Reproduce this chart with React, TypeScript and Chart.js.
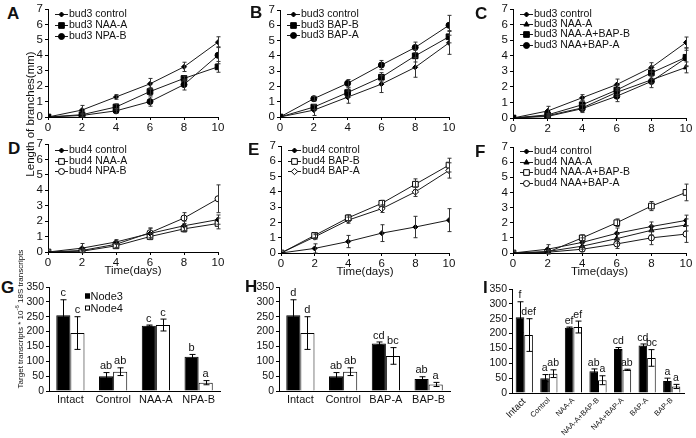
import React, { useEffect, useRef } from "react";
import { Chart, registerables } from "chart.js";
import { drawPoint } from "chart.js/helpers";

Chart.register(...registerables);

const FONT = "'Liberation Sans', Arial, Helvetica, sans-serif";
const INK = "#111";

// ---------- DATA ----------
const days = [0, 2, 4, 6, 8, 10];

// Panel A (bud3)
const aControl = [0, 0.45, 1.3, 2.15, 3.25, 4.85];
const aControlErr = [0, 0.3, 0.15, 0.35, 0.3, 0.35];
const aNAA = [0, 0.15, 0.65, 1.65, 2.5, 3.25];
const aNAAErr = [0, 0.1, 0.2, 0.25, 0.15, 0.35];
const aNPA = [0, 0.1, 0.4, 1.0, 2.1, 4.0];
const aNPAErr = [0, 0.1, 0.15, 0.3, 0.35, 0.55];

// Panel B (bud3)
const bControl = [0, 0.45, 1.3, 2.15, 3.25, 4.85];
const bControlErr = [0, 0.35, 0.4, 0.55, 0.65, 0.75];
const bBAPB = [0, 0.65, 1.6, 2.6, 4.0, 5.25];
const bBAPBErr = [0, 0.15, 0.3, 0.3, 0.4, 0.4];
const bBAPA = [0, 1.2, 2.2, 3.4, 4.55, 6.0];
const bBAPAErr = [0, 0.15, 0.25, 0.3, 0.35, 0.65];

// Panel C (bud3)
const cControl = [0, 0.45, 1.3, 2.15, 3.25, 4.85];
const cControlErr = [0, 0.3, 0.2, 0.35, 0.3, 0.35];
const cNAA = [0, 0.15, 0.65, 1.65, 2.45, 3.25];
const cNAAErr = [0, 0.1, 0.2, 0.25, 0.2, 0.35];
const cNAABAPB = [0, 0.2, 0.85, 1.8, 2.9, 3.9];
const cNAABAPBErr = [0, 0.1, 0.3, 0.3, 0.4, 0.6];
const cNAABAPA = [0, 0.1, 0.6, 1.4, 2.35, 3.85];
const cNAABAPAErr = [0, 0.1, 0.25, 0.35, 0.4, 0.5];

// Panel D (bud4)
const dControl = [0, 0.25, 0.65, 1.2, 1.7, 2.1];
const dControlErr = [0, 0.3, 0.15, 0.35, 0.3, 0.3];
const dNAA = [0, 0.05, 0.4, 1.0, 1.5, 1.85];
const dNAAErr = [0, 0.05, 0.15, 0.2, 0.2, 0.35];
const dNPA = [0, 0.1, 0.5, 1.25, 2.2, 3.45];
const dNPAErr = [0, 0.1, 0.2, 0.3, 0.35, 0.9];

// Panel E (bud4)
const eControl = [0, 0.3, 0.75, 1.3, 1.7, 2.15];
const eControlErr = [0, 0.3, 0.4, 0.55, 0.7, 0.75];
const eBAPB = [0, 1.15, 2.3, 3.25, 4.5, 5.75];
const eBAPBErr = [0, 0.15, 0.2, 0.2, 0.35, 0.45];
const eBAPA = [0, 1.05, 2.15, 2.9, 4.0, 5.4];
const eBAPAErr = [0, 0.15, 0.2, 0.25, 0.3, 0.5];

// Panel F (bud4)
const fControl = [0, 0.25, 0.7, 1.3, 1.75, 2.15];
const fControlErr = [0, 0.3, 0.3, 0.35, 0.3, 0.35];
const fNAA = [0, 0.1, 0.45, 0.95, 1.5, 1.85];
const fNAAErr = [0, 0.1, 0.2, 0.3, 0.3, 0.4];
const fNAABAPB = [0, 0.05, 1.0, 2.0, 3.1, 4.0];
const fNAABAPBErr = [0, 0.1, 0.2, 0.25, 0.3, 0.55];
const fNAABAPA = [0, 0.05, 0.25, 0.6, 1.0, 1.25];
const fNAABAPAErr = [0, 0.1, 0.15, 0.3, 0.45, 0.55];

// Panel G
const gCategories = ["Intact", "Control", "NAA-A", "NPA-B"];
const gNode3 = [255, 50, 220, 115];
const gNode3Err = [52, 12, 2, 8];
const gNode3Letters = ["c", "ab", "c", "b"];
const gNode4 = [195, 65, 222, 28];
const gNode4Err = [55, 13, 20, 7];
const gNode4Letters = ["c", "ab", "c", "a"];

// Panel H
const hCategories = ["Intact", "Control", "BAP-A", "BAP-B"];
const hNode3 = [255, 50, 160, 40];
const hNode3Err = [52, 12, 5, 8];
const hNode3Letters = ["d", "ab", "cd", "ab"];
const hNode4 = [195, 65, 118, 22];
const hNode4Err = [55, 13, 28, 7];
const hNode4Letters = ["d", "ab", "bc", "a"];

// Panel I
const iCategories = ["Intact", "Control", "NAA-A", "NAA-A+BAP-B", "NAA+BAP-A", "BAP-A", "BAP-B"];
const iNode3 = [255, 50, 220, 73, 148, 160, 40];
const iNode3Err = [52, 12, 2, 8, 5, 5, 10];
const iNode3Letters = ["f", "a", "ef", "ab", "cd", "cd", "a"];
const iNode4 = [195, 65, 222, 43, 78, 118, 22];
const iNode4Err = [55, 13, 20, 15, 2, 28, 7];
const iNode4Letters = ["def", "ab", "ef", "a", "ab", "bc", "a"];

// ---------- PLUGINS ----------
const errorBarsPlugin = {
  id: "errorBars",
  afterDatasetsDraw(chart: any, _a: any, o: any) {
    const ctx = chart.ctx;
    const ys = chart.scales.y;
    const cap = o && o.cap != null ? o.cap : 2;
    chart.data.datasets.forEach((ds: any, i: number) => {
      if (!ds.errors) return;
      const meta = chart.getDatasetMeta(i);
      meta.data.forEach((el: any, j: number) => {
        const e = ds.errors[j];
        if (!e) return;
        const raw = ds.data[j];
        const v = typeof raw === "number" ? raw : raw.y;
        const x = Math.round(el.x) + 0.5;
        const y1 = ys.getPixelForValue(v + e);
        const y2 = ys.getPixelForValue(v - e);
        ctx.save();
        ctx.strokeStyle = (o && o.color) || "#333";
        ctx.lineWidth = 1;
        ctx.beginPath();
        ctx.moveTo(x, y1);
        ctx.lineTo(x, y2);
        ctx.moveTo(x - cap, y1);
        ctx.lineTo(x + cap, y1);
        ctx.moveTo(x - cap, y2);
        ctx.lineTo(x + cap, y2);
        ctx.stroke();
        ctx.restore();
      });
    });
  },
};

const lettersPlugin = {
  id: "sigLetters",
  afterDatasetsDraw(chart: any, _a: any, o: any) {
    if (!o || !o.show) return;
    const ctx = chart.ctx;
    const ys = chart.scales.y;
    ctx.save();
    ctx.font = `${o.size}px ${FONT}`;
    ctx.fillStyle = INK;
    ctx.textAlign = "center";
    ctx.textBaseline = "bottom";
    chart.data.datasets.forEach((ds: any, i: number) => {
      if (!ds.letters) return;
      const meta = chart.getDatasetMeta(i);
      meta.data.forEach((el: any, j: number) => {
        const v = ds.data[j] + (ds.errors ? ds.errors[j] : 0);
        ctx.fillText(ds.letters[j], el.x, ys.getPixelForValue(v) - 1);
      });
    });
    ctx.restore();
  },
};

const panelLegendPlugin = {
  id: "panelLegend",
  afterDraw(chart: any, _a: any, o: any) {
    if (!o || !o.show) return;
    const ctx = chart.ctx;
    const { left, top } = chart.chartArea;
    ctx.save();
    ctx.font = `${o.size}px ${FONT}`;
    ctx.textBaseline = "middle";
    ctx.textAlign = "left";
    chart.data.datasets.forEach((ds: any, i: number) => {
      const y = Math.round(top + o.dy + i * o.row) + 0.5;
      const x0 = left + o.dx;
      if (o.kind === "box") {
        ctx.fillStyle = ds.backgroundColor;
        ctx.strokeStyle = "#000";
        ctx.lineWidth = 1;
        ctx.fillRect(x0, y - 3, 5, 5);
        ctx.strokeRect(x0 + 0.5, y - 2.5, 4, 4);
        ctx.fillStyle = INK;
        ctx.fillText(ds.label, x0 + 5.5, y);
      } else {
        ctx.strokeStyle = ds.borderColor;
        ctx.lineWidth = 1;
        ctx.beginPath();
        ctx.moveTo(x0, y);
        ctx.lineTo(x0 + o.len, y);
        ctx.stroke();
        ctx.fillStyle = ds.pointBackgroundColor;
        ctx.strokeStyle = ds.pointBorderColor;
        ctx.lineWidth = ds.pointBorderWidth;
        drawPoint(
          ctx,
          { pointStyle: ds.pointStyle, radius: ds.pointRadius, rotation: 0, borderWidth: ds.pointBorderWidth } as any,
          x0 + o.len / 2,
          y
        );
        ctx.fillStyle = INK;
        ctx.fillText(ds.label, x0 + o.len + 1, y);
      }
    });
    ctx.restore();
  },
};

Chart.register(errorBarsPlugin as any, lettersPlugin as any, panelLegendPlugin as any);

// ---------- STYLES ----------
type Marker = { style: string; r: number; open: boolean };
const M_DIAMOND: Marker = { style: "rectRot", r: 2.5, open: false };
const M_SQUARE: Marker = { style: "rect", r: 4, open: false };
const M_CIRCLE: Marker = { style: "circle", r: 3, open: false };
const M_TRI: Marker = { style: "triangle", r: 3, open: false };
const M_OSQUARE: Marker = { style: "rect", r: 4, open: true };
const M_OCIRCLE: Marker = { style: "circle", r: 3, open: true };
const M_ODIAMOND: Marker = { style: "rectRot", r: 3.2, open: true };

function lineDs(label: string, values: number[], errors: number[], m: Marker) {
  return {
    label,
    data: days.map((d, i) => ({ x: d, y: values[i] })),
    errors,
    borderColor: "#1a1a1a",
    borderWidth: 1,
    pointStyle: m.style,
    pointRadius: m.r,
    pointBackgroundColor: m.open ? "#fff" : "#000",
    pointBorderColor: "#000",
    pointBorderWidth: 1,
    tension: 0,
    fill: false,
  };
}

function barDs(label: string, values: number[], errors: number[], letters: string[], filled: boolean) {
  return {
    label,
    data: values,
    errors,
    letters,
    backgroundColor: filled ? "#000" : "#fff",
    borderColor: "#000",
    borderWidth: 1,
  };
}

type Area = { L: number; T: number; R: number; B: number };
type Geo = { yW: number; xH: number; padTop: number; padRight: number };

function lineConfig(datasets: any[], xTitle: boolean, g: Geo, legend: any) {
  const tickFont = { family: FONT, size: 11.5 };
  return {
    type: "line",
    data: { datasets },
    options: {
      animation: false,
      responsive: false,
      devicePixelRatio: 1,
      layout: { padding: { top: g.padTop, right: g.padRight, left: 0, bottom: 0 } },
      plugins: {
        legend: { display: false },
        tooltip: { enabled: false },
        panelLegend: { show: true, dx: 7, len: 13, size: 10.5, ...legend },
        errorBars: { cap: 2, color: "#333" },
        sigLetters: { show: false },
      },
      scales: {
        x: {
          type: "linear",
          min: 0,
          max: 10,
          ticks: { stepSize: 2, font: tickFont, color: INK, padding: 1, maxRotation: 0, autoSkip: false },
          grid: { drawOnChartArea: false, tickLength: 3, color: "#000" },
          border: { color: "#000", width: 1 },
          title: { display: xTitle, text: "Time(days)", font: tickFont, color: INK, padding: 0 },
          afterFit: (s: any) => {
            s.height = g.xH;
            s.paddingLeft = 0;
            s.paddingRight = 0;
          },
        },
        y: {
          min: 0,
          max: 7,
          ticks: { stepSize: 1, font: tickFont, color: INK, padding: 2, autoSkip: false },
          grid: { drawOnChartArea: false, tickLength: 3, color: "#000" },
          border: { color: "#000", width: 1 },
          afterFit: (s: any) => {
            s.width = g.yW;
            s.paddingTop = 0;
            s.paddingBottom = 0;
          },
        },
      },
    },
  };
}

function barConfig(categories: string[], datasets: any[], g: Geo, opts: any) {
  return {
    type: "bar",
    data: { labels: categories, datasets },
    options: {
      animation: false,
      responsive: false,
      devicePixelRatio: 1,
      layout: { padding: { top: g.padTop, right: g.padRight, left: 0, bottom: 0 } },
      datasets: { bar: { categoryPercentage: opts.cp, barPercentage: 1 } },
      plugins: {
        legend: { display: false },
        tooltip: { enabled: false },
        panelLegend: opts.legend ? { show: true, kind: "box", size: 11, ...opts.legend } : { show: false },
        errorBars: { cap: 3, color: "#000" },
        sigLetters: { show: true, size: opts.letterSize },
      },
      scales: {
        x: {
          type: "category",
          offset: true,
          ticks: {
            font: opts.xFont,
            color: INK,
            padding: opts.xPad,
            minRotation: opts.rot,
            maxRotation: opts.rot,
            autoSkip: false,
          },
          grid: { display: false, drawTicks: false, tickLength: 0 },
          border: { color: "#000", width: 1 },
          afterFit: (s: any) => {
            s.height = g.xH;
            s.paddingLeft = 0;
            s.paddingRight = 0;
          },
        },
        y: {
          min: 0,
          max: 350,
          ticks: { stepSize: 50, font: { family: FONT, size: 10.5 }, color: INK, padding: 2, autoSkip: false },
          grid: { drawOnChartArea: false, tickLength: 3, color: "#000" },
          border: { color: "#000", width: 1 },
          afterFit: (s: any) => {
            s.width = g.yW;
            s.paddingTop = 0;
            s.paddingBottom = 0;
          },
        },
      },
    },
  };
}

function ChartPanel({ area, geo, build }: { area: Area; geo: Geo; build: (g: Geo) => any }) {
  const ref = useRef<HTMLCanvasElement>(null);
  const w = area.R - area.L + geo.yW + geo.padRight;
  const h = area.B - area.T + geo.padTop + geo.xH;
  useEffect(() => {
    const chart = new Chart(ref.current as HTMLCanvasElement, build(geo));
    return () => chart.destroy();
  }, []);
  return (
    <canvas
      ref={ref}
      width={w}
      height={h}
      style={{ position: "absolute", left: area.L - geo.yW, top: area.T - geo.padTop, width: w, height: h }}
    />
  );
}

const ROW1: Geo = { yW: 22, xH: 18, padTop: 8, padRight: 9 };
const ROW2: Geo = { yW: 22, xH: 26, padTop: 8, padRight: 9 };
const BARGEO: Geo = { yW: 30, xH: 20, padTop: 8, padRight: 8 };
const BARGEO_I: Geo = { yW: 30, xH: 45, padTop: 8, padRight: 8 };

const panels: { key: string; area: Area; geo: Geo; build: (g: Geo) => any }[] = [
  {
    key: "A",
    area: { L: 48, T: 9, R: 218, B: 117 },
    geo: ROW1,
    build: (g) =>
      lineConfig(
        [
          lineDs("bud3 control", aControl, aControlErr, M_DIAMOND),
          lineDs("bud3 NAA-A", aNAA, aNAAErr, M_SQUARE),
          lineDs("bud3 NPA-B", aNPA, aNPAErr, M_CIRCLE),
        ],
        false,
        g,
        { dy: 5, row: 11 }
      ),
  },
  {
    key: "B",
    area: { L: 280, T: 10, R: 449, B: 117 },
    geo: ROW1,
    build: (g) =>
      lineConfig(
        [
          lineDs("bud3 control", bControl, bControlErr, M_DIAMOND),
          lineDs("bud3 BAP-B", bBAPB, bBAPBErr, M_SQUARE),
          lineDs("bud3 BAP-A", bBAPA, bBAPAErr, M_CIRCLE),
        ],
        false,
        g,
        { dy: 4, row: 10.5 }
      ),
  },
  {
    key: "C",
    area: { L: 513, T: 9, R: 686, B: 118 },
    geo: ROW1,
    build: (g) =>
      lineConfig(
        [
          lineDs("bud3 control", cControl, cControlErr, M_DIAMOND),
          lineDs("bud3 NAA-A", cNAA, cNAAErr, M_TRI),
          lineDs("bud3 NAA-A+BAP-B", cNAABAPB, cNAABAPBErr, M_SQUARE),
          lineDs("bud3 NAA+BAP-A", cNAABAPA, cNAABAPAErr, M_CIRCLE),
        ],
        false,
        g,
        { dy: 5, row: 10.2 }
      ),
  },
  {
    key: "D",
    area: { L: 48, T: 144, R: 218, B: 252 },
    geo: ROW2,
    build: (g) =>
      lineConfig(
        [
          lineDs("bud4 control", dControl, dControlErr, M_DIAMOND),
          lineDs("bud4 NAA-A", dNAA, dNAAErr, M_OSQUARE),
          lineDs("bud4 NPA-B", dNPA, dNPAErr, M_OCIRCLE),
        ],
        true,
        g,
        { dy: 6, row: 10.5 }
      ),
  },
  {
    key: "E",
    area: { L: 281, T: 146, R: 449, B: 253 },
    geo: ROW2,
    build: (g) =>
      lineConfig(
        [
          lineDs("bud4 control", eControl, eControlErr, M_DIAMOND),
          lineDs("bud4 BAP-B", eBAPB, eBAPBErr, M_OSQUARE),
          lineDs("bud4 BAP-A", eBAPA, eBAPAErr, M_ODIAMOND),
        ],
        true,
        g,
        { dy: 4, row: 10.5 }
      ),
  },
  {
    key: "F",
    area: { L: 513, T: 147, R: 686, B: 253 },
    geo: ROW2,
    build: (g) =>
      lineConfig(
        [
          lineDs("bud4 control", fControl, fControlErr, M_DIAMOND),
          lineDs("bud4 NAA-A", fNAA, fNAAErr, M_TRI),
          lineDs("bud4 NAA-A+BAP-B", fNAABAPB, fNAABAPBErr, M_OSQUARE),
          lineDs("bud4 NAA+BAP-A", fNAABAPA, fNAABAPAErr, M_OCIRCLE),
        ],
        true,
        g,
        { dy: 4, row: 10.7 }
      ),
  },
  {
    key: "G",
    area: { L: 49, T: 287, R: 220, B: 391 },
    geo: BARGEO,
    build: (g) =>
      barConfig(
        gCategories,
        [
          barDs("Node3", gNode3, gNode3Err, gNode3Letters, true),
          barDs("Node4", gNode4, gNode4Err, gNode4Letters, false),
        ],
        g,
        {
          cp: 0.66,
          rot: 0,
          xPad: 2,
          xFont: { family: FONT, size: 11 },
          letterSize: 11,
          legend: { dx: 36, dy: 9, row: 12 },
        }
      ),
  },
  {
    key: "H",
    area: { L: 279, T: 287, R: 450, B: 391 },
    geo: BARGEO,
    build: (g) =>
      barConfig(
        hCategories,
        [
          barDs("Node3", hNode3, hNode3Err, hNode3Letters, true),
          barDs("Node4", hNode4, hNode4Err, hNode4Letters, false),
        ],
        g,
        { cp: 0.66, rot: 0, xPad: 2, xFont: { family: FONT, size: 11 }, letterSize: 11, legend: null }
      ),
  },
  {
    key: "I",
    area: { L: 512, T: 289, R: 684, B: 393 },
    geo: BARGEO_I,
    build: (g) =>
      barConfig(
        iCategories,
        [
          barDs("Node3", iNode3, iNode3Err, iNode3Letters, true),
          barDs("Node4", iNode4, iNode4Err, iNode4Letters, false),
        ],
        g,
        {
          cp: 0.7,
          rot: 45,
          xPad: 3,
          xFont: (c: any) => ({ family: FONT, size: c.index === 0 ? 9.5 : 7.5 }),
          letterSize: 10.5,
          legend: null,
        }
      ),
  },
];

const panelLetters = [
  { t: "A", x: 7, y: 5 },
  { t: "B", x: 250, y: 4 },
  { t: "C", x: 475, y: 5 },
  { t: "D", x: 8, y: 140 },
  { t: "E", x: 248, y: 141 },
  { t: "F", x: 475, y: 143 },
  { t: "G", x: 1, y: 279 },
  { t: "H", x: 245, y: 278 },
  { t: "I", x: 483, y: 279 },
];

export default function App() {
  return (
    <div
      style={{
        position: "absolute",
        left: 0,
        top: 0,
        width: 696,
        height: 438,
        overflow: "hidden",
        background: "#fff",
        fontFamily: FONT,
        color: INK,
      }}
    >
      {panels.map((p) => (
        <ChartPanel key={p.key} area={p.area} geo={p.geo} build={p.build} />
      ))}
      {panelLetters.map((l) => (
        <div
          key={l.t}
          style={{
            position: "absolute",
            left: l.x,
            top: l.y,
            fontSize: 17,
            fontWeight: "bold",
            lineHeight: "17px",
            zIndex: 2,
          }}
        >
          {l.t}
        </div>
      ))}
      <div
        style={{
          position: "absolute",
          left: 30 - 80,
          top: 114 - 7,
          width: 160,
          height: 14,
          lineHeight: "14px",
          fontSize: 11.5,
          textAlign: "center",
          whiteSpace: "nowrap",
          transform: "rotate(-90deg)",
          zIndex: 2,
        }}
      >
        Length of branches(mm)
      </div>
      <div
        style={{
          position: "absolute",
          left: 21 - 90,
          top: 319 - 6,
          width: 180,
          height: 12,
          lineHeight: "12px",
          fontSize: 8,
          textAlign: "center",
          whiteSpace: "nowrap",
          transform: "rotate(-90deg)",
          zIndex: 2,
        }}
      >
        Target transcripts * 10<sup style={{ fontSize: 6, verticalAlign: "4px", lineHeight: 0 }}>-6</sup> 18S transcripts
      </div>
    </div>
  );
}
